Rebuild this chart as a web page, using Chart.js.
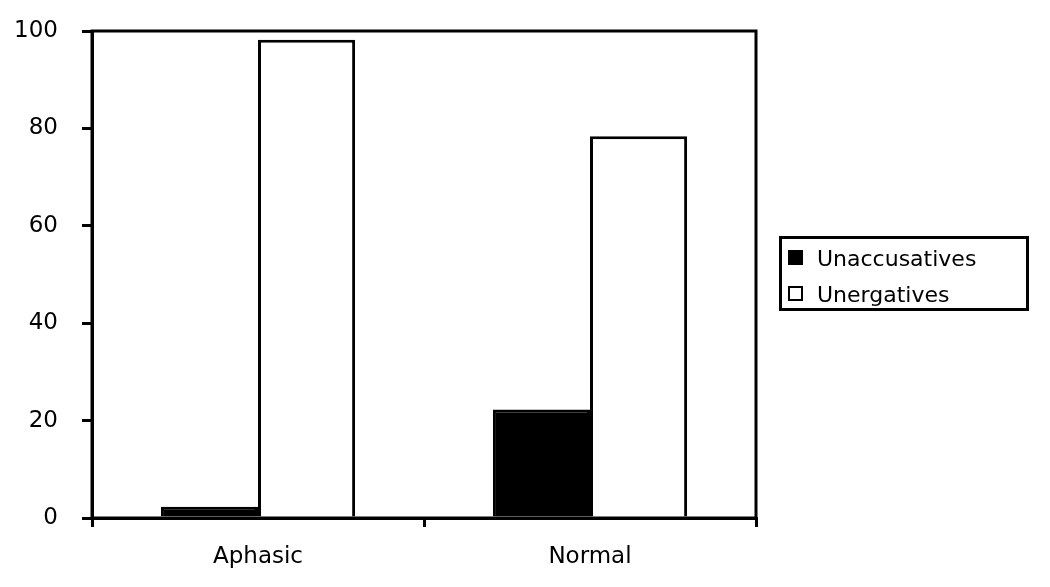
<!DOCTYPE html>
<html>
<head>
<meta charset="utf-8">
<script src="https://cdn.jsdelivr.net/npm/chart.js@4"></script>
<style>
  html, body { margin: 0; padding: 0; background: #fff; }
  #wrap { position: relative; width: 1050px; height: 587px; }
  #legend {
    position: absolute; left: 779px; top: 236px; width: 244px; height: 69px;
    border: 3px solid #000; font-family: "DejaVu Sans", sans-serif;
    font-size: 22px; color: #000;
  }
  .item { position: absolute; left: 6px; height: 30px; line-height: 30px; white-space: nowrap; }
  .swatch { display: inline-block; width: 11px; height: 11px; border: 2px solid #000; margin-right: 14px; vertical-align: 1px; }
</style>
</head>
<body>
<div id="wrap">
  <canvas id="chart" width="1050" height="587"></canvas>
  <div id="legend"></div>
</div>
<script>
// Datos
const categories = ['Aphasic', 'Normal'];
const seriesNames = ['Unaccusatives', 'Unergatives'];
const unaccusatives = [2.3, 22.3];
const unergatives = [98.2, 78.4];
const yTicks = [0, 20, 40, 60, 80, 100];

const fillColors = ['#000000', '#ffffff'];
const font = { family: '"DejaVu Sans", sans-serif', size: 23 };

// Marco del area del grafico
const frame = {
  id: 'frame',
  afterDraw(chart) {
    const a = chart.chartArea;
    const ctx = chart.ctx;
    ctx.save();
    ctx.strokeStyle = '#000';
    ctx.lineWidth = 3;
    ctx.strokeRect(a.left, a.top, a.right - a.left, a.bottom - a.top);
    ctx.restore();
  }
};

const ctx = document.getElementById('chart').getContext('2d');
const chart = new Chart(ctx, {
  type: 'bar',
  data: {
    labels: categories,
    datasets: [
      { label: seriesNames[0], data: unaccusatives, backgroundColor: fillColors[0], borderColor: '#000', borderWidth: 3 },
      { label: seriesNames[1], data: unergatives, backgroundColor: fillColors[1], borderColor: '#000', borderWidth: 3 }
    ]
  },
  options: {
    responsive: false,
    animation: false,
    layout: { padding: { left: 0, top: 31, right: 294, bottom: 0 } },
    datasets: { bar: { categoryPercentage: 0.585, barPercentage: 1 } },
    plugins: { legend: { display: false }, tooltip: { enabled: false } },
    scales: {
      x: {
        afterFit(scale) { scale.height = 69; scale.paddingLeft = 0; scale.paddingRight = 0; },
        grid: { offset: true, drawOnChartArea: false, drawTicks: true, tickLength: 9, color: '#000', lineWidth: 3 },
        border: { color: '#000', width: 3 },
        ticks: { color: '#000', font: font, padding: 16 }
      },
      y: {
        min: 0, max: 100,
        afterFit(scale) { scale.width = 92; scale.paddingTop = 0; scale.paddingBottom = 0; },
        afterBuildTicks(scale) { scale.ticks = yTicks.map(v => ({ value: v })); },
        grid: { drawOnChartArea: false, drawTicks: true, tickLength: 10, color: '#000', lineWidth: 3 },
        border: { color: '#000', width: 3 },
        ticks: { color: '#000', font: font, padding: 24 }
      }
    }
  },
  plugins: [frame]
});

// Leyenda
const legend = document.getElementById('legend');
chart.data.datasets.forEach((ds, i) => {
  const item = document.createElement('div');
  item.className = 'item';
  item.style.top = (5 + i * 36) + 'px';
  item.innerHTML = '<span class="swatch" style="background:' + ds.backgroundColor + '"></span>' + ds.label;
  legend.appendChild(item);
});
</script>
</body>
</html>
